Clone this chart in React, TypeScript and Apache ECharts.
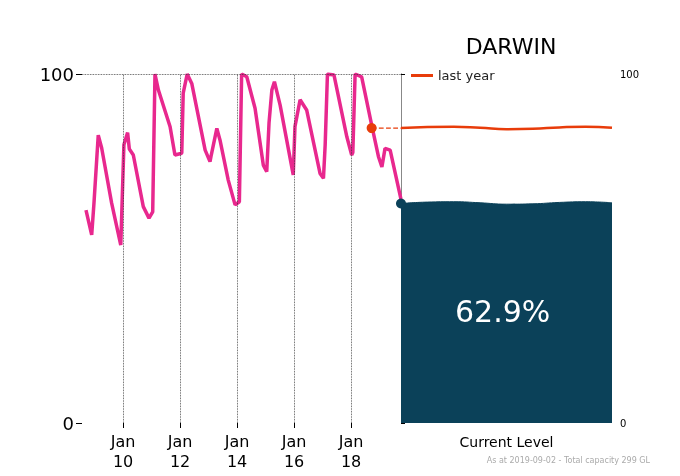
import { useEffect, useRef } from 'react';
import * as echarts from 'echarts';

// storage history: [decimal year, % full]
const history: [number, number][] = [
  [2008.7, 61.0], [2008.9, 53.9], [2008.98, 63], [2009.13, 82.5], [2009.25, 78.8],
  [2009.6, 63], [2009.92, 51], [2010.03, 79.7], [2010.16, 83.2], [2010.22, 78.5],
  [2010.36, 76.8], [2010.71, 62], [2010.91, 58.7], [2011.04, 60.5], [2011.12, 100],
  [2011.24, 95.4], [2011.65, 84.9], [2011.82, 76.8], [2012.06, 77.3], [2012.11, 94.5],
  [2012.25, 100], [2012.41, 97.3], [2012.88, 78.2], [2013.05, 74.9], [2013.1, 77],
  [2013.29, 84.4], [2013.4, 81.1], [2013.69, 69.6], [2013.93, 62.5], [2014.08, 63.4],
  [2014.16, 100], [2014.34, 99.2], [2014.63, 90.2], [2014.92, 73.9], [2015.04, 72],
  [2015.12, 85.9], [2015.22, 95.4], [2015.31, 97.8], [2015.51, 91.1], [2015.97, 71.1],
  [2016.03, 84.9], [2016.21, 92.6], [2016.44, 89.7], [2016.91, 71.5], [2017.03, 70.1],
  [2017.09, 79.7], [2017.17, 100], [2017.4, 99.7], [2017.85, 82], [2018.02, 76.8],
  [2018.06, 77.5], [2018.14, 100], [2018.37, 99.2], [2018.72, 85.4], [2018.96, 76.3],
  [2019.08, 73.4], [2019.19, 78.7], [2019.37, 78.2], [2019.74, 64.4], [2019.75, 62.9],
];
const yearTicks = [2010, 2012, 2014, 2016, 2018];
const lastYearPoint: [number, number] = [2018.72, 84.5];
const currentPoint: [number, number] = [2019.75, 62.9];
const waveX = [0, 0.125, 0.25, 0.375, 0.5, 0.625, 0.75, 0.875, 1];
const lastYearWave = [84.5, 84.8, 84.9, 84.6, 84.2, 84.3, 84.7, 84.9, 84.6];
const currentWave = [62.9, 63.3, 63.4, 63.1, 62.7, 62.8, 63.2, 63.4, 63.1];

const PINK = '#e8288e';
const ORANGE = '#e83c0a';
const TEAL = '#0b4159';
const FONT = 'DejaVu Sans';

export default function App() {
  const ref = useRef<HTMLDivElement>(null);

  useEffect(() => {
    if (!ref.current) return;
    const chart = echarts.init(ref.current, undefined, { renderer: 'svg' });
    chart.setOption({
      animation: false,
      textStyle: { fontFamily: FONT },
      title: {
        text: 'DARWIN', left: 506, top: 30, textAlign: 'center',
        textStyle: { fontSize: 22, fontWeight: 'normal', color: '#000', fontFamily: FONT },
      },
      legend: {
        left: 406, top: 64, itemWidth: 22, itemHeight: 3, icon: 'rect',
        data: ['last year'],
        textStyle: { fontSize: 13, color: '#222', fontFamily: FONT },
      },
      grid: [
        { left: 82, right: 279, top: 74, bottom: 53 },
        { left: 401, right: 68, top: 74, bottom: 53 },
      ],
      xAxis: [
        {
          type: 'value', gridIndex: 0, min: 2008.56, max: 2019.75,
          axisLine: { show: false }, splitLine: { show: false },
          axisTick: { show: true, customValues: yearTicks, length: 5, lineStyle: { color: '#000' } },
          axisLabel: {
            customValues: yearTicks, fontSize: 16, color: '#000', lineHeight: 20,
            formatter: (v: number) => 'Jan\n' + String(v).slice(2),
          },
        },
        {
          type: 'value', gridIndex: 1, min: 0, max: 1,
          axisLine: { show: false }, axisTick: { show: false }, axisLabel: { show: false },
          splitLine: { show: false },
          name: 'Current Level', nameLocation: 'middle', nameGap: 12,
          nameTextStyle: { fontSize: 14, color: '#000' },
        },
      ],
      yAxis: [
        {
          type: 'value', gridIndex: 0, min: 0, max: 100, interval: 100,
          axisLine: { show: false }, splitLine: { show: false },
          axisTick: { show: true, length: 6, lineStyle: { color: '#000' } },
          axisLabel: { fontSize: 18, color: '#000' },
        },
        {
          type: 'value', gridIndex: 1, min: 0, max: 100, interval: 100, position: 'right',
          axisLine: { show: true, lineStyle: { color: '#888' } }, splitLine: { show: false },
          axisTick: { show: true, length: 4, lineStyle: { color: '#000' } },
          axisLabel: { fontSize: 10, color: '#000' },
        },
        {
          type: 'value', gridIndex: 1, min: 0, max: 100, position: 'left',
          axisLine: { show: true, lineStyle: { color: '#888' } },
          axisTick: { show: false }, axisLabel: { show: false }, splitLine: { show: false },
        },
      ],
      graphic: [
        {
          type: 'text', left: 455, top: 296, z: 100,
          style: { text: '62.9%', fontSize: 30, fill: '#fff', fontFamily: FONT },
        },
        {
          type: 'text', right: 30, bottom: 12, z: 100,
          style: { text: 'As at 2019-09-02 - Total capacity 299 GL', fontSize: 8, fill: '#aaa', fontFamily: FONT },
        },
      ],
      series: [
        {
          type: 'line', xAxisIndex: 0, yAxisIndex: 0, data: history, showSymbol: false,
          lineStyle: { color: PINK, width: 3.5 }, z: 3,
          markLine: {
            silent: true, symbol: 'none', label: { show: false },
            lineStyle: { color: '#333', type: 'dotted', width: 0.8 },
            data: [...yearTicks.map((y) => ({ xAxis: y })), { yAxis: 100 }],
          },
        },
        {
          type: 'line', xAxisIndex: 0, yAxisIndex: 0, showSymbol: false,
          data: [lastYearPoint, [2019.75, lastYearPoint[1]]],
          lineStyle: { color: ORANGE, width: 1.2, type: 'dashed' }, z: 4,
        },
        {
          type: 'scatter', xAxisIndex: 0, yAxisIndex: 0, data: [lastYearPoint],
          symbolSize: 10, itemStyle: { color: ORANGE, opacity: 1 }, z: 5,
        },
        {
          type: 'scatter', xAxisIndex: 0, yAxisIndex: 0, data: [currentPoint],
          symbolSize: 10, itemStyle: { color: TEAL, opacity: 1 }, z: 5,
        },
        {
          type: 'line', xAxisIndex: 1, yAxisIndex: 1, smooth: true, showSymbol: false, z: 1,
          data: waveX.map((x, i) => [x, currentWave[i]]),
          lineStyle: { color: TEAL, width: 1 }, areaStyle: { color: TEAL, opacity: 1 },
        },
        {
          name: 'last year', type: 'line', xAxisIndex: 1, yAxisIndex: 1, smooth: true, showSymbol: false,
          data: waveX.map((x, i) => [x, lastYearWave[i]]),
          lineStyle: { color: ORANGE, width: 2.5 }, itemStyle: { color: ORANGE },
        },
      ],
    });
    return () => chart.dispose();
  }, []);

  return <div ref={ref} style={{ position: 'fixed', left: 0, top: 0, width: 680, height: 476 }} />;
}
